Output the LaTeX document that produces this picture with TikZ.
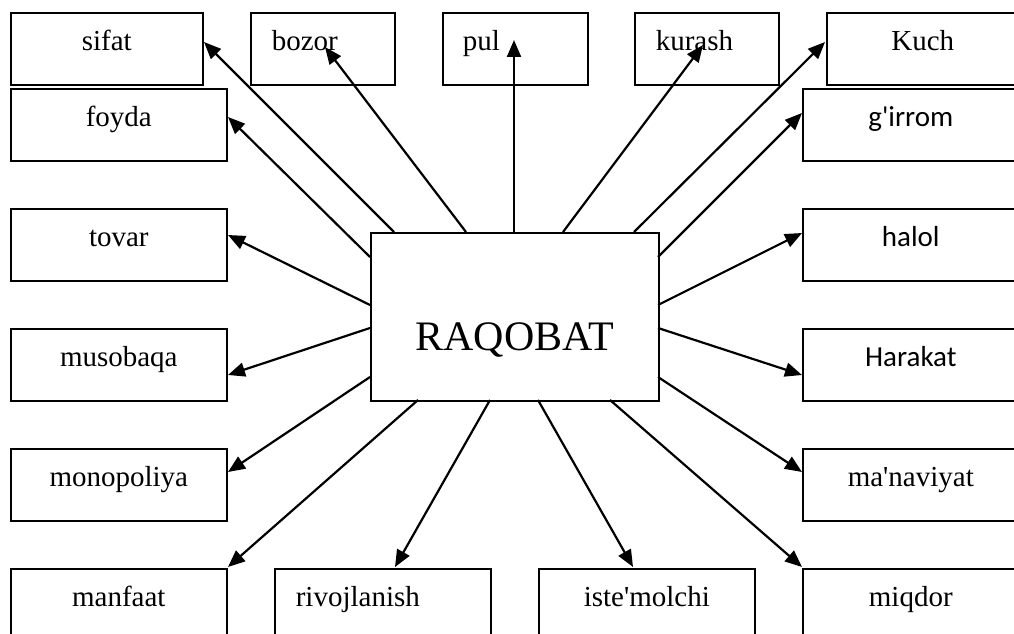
\documentclass[tikz,border=0pt]{standalone}
\usepackage{fontspec}
\setmainfont{Liberation Serif}
\newfontfamily\calib{Carlito}
\usetikzlibrary{arrows.meta}
\tikzset{
  wbox/.style={draw=black, line width=1.6pt, inner sep=0pt, anchor=north west,
    text height=37.5pt, text depth=34.5pt, align=center,
    font=\fontsize{29}{33}\selectfont},
  lbox/.style={wbox, align=left},
  sansbox/.style={wbox, font=\calib\fontsize{29}{33}\selectfont},
  arr/.style={draw=black, line width=2.2pt, -{Triangle[length=17pt,width=14pt]}}
}
\begin{document}
\begin{tikzpicture}[x=1pt,y=-1pt]
\useasboundingbox (0,0) rectangle (1014,634);
% top row
\node[wbox, text width=192pt] (sifat) at (10,12) {sifat};
\node[lbox, text width=144pt] (bozor) at (250,12) {\hspace*{21pt}bozor};
\node[lbox, text width=145pt] (pul) at (442,12) {\hspace*{20pt}pul};
\node[lbox, text width=144pt] (kurash) at (634,12) {\hspace*{21pt}kurash};
\node[wbox, text width=192pt] (kuch) at (826,12) {Kuch};
% second row
\node[wbox, text width=216pt] (foyda) at (10,88) {foyda};
\node[sansbox, text width=216pt] (girrom) at (802,88) {g'irrom};
% sides
\node[wbox, text width=216pt] (tovar) at (10,208) {tovar};
\node[sansbox, text width=216pt] (halol) at (802,208) {halol};
\node[wbox, text width=216pt] (musobaqa) at (10,328) {musobaqa};
\node[sansbox, text width=216pt] (harakat) at (802,328) {Harakat};
\node[wbox, text width=216pt] (monopoliya) at (10,448) {monopoliya};
\node[wbox, text width=216pt] (manaviyat) at (802,448) {ma\textquotesingle naviyat};
% bottom row
\node[wbox, text width=216pt] (manfaat) at (10,568) {manfaat};
\node[lbox, text width=216pt] (rivoj) at (274,568) {\hspace*{21pt}rivojlanish};
\node[wbox, text width=216pt] (iste) at (538,568) {iste\textquotesingle molchi};
\node[wbox, text width=216pt] (miqdor) at (802,568) {miqdor};
% center
\node[draw=black, line width=1.6pt, inner sep=0pt, anchor=north west, text width=288pt,
  align=center, text height=118pt, text depth=50pt, font=\fontsize{42}{48}\selectfont]
  (raq) at (370,232) {RAQOBAT};
% start points on RAQOBAT
\coordinate (s1) at (394,232);
\coordinate (s2) at (466,232);
\coordinate (s3) at (514,232);
\coordinate (s4) at (563,232);
\coordinate (s5) at (634,232);
\coordinate (s6) at (370,257);
\coordinate (s7) at (658,257);
\coordinate (s8) at (370,305);
\coordinate (s9) at (658,305);
\coordinate (s10) at (370,328);
\coordinate (s11) at (658,328);
\coordinate (s12) at (370,377);
\coordinate (s13) at (658,377);
\coordinate (s14) at (418,400);
\coordinate (s15) at (490,400);
\coordinate (s16) at (538,400);
\coordinate (s17) at (610,400);
% tips
\coordinate (t1) at (204,42);
\coordinate (t2) at (325,47);
\coordinate (t3) at (514,40);
\coordinate (t4) at (703,45);
\coordinate (t5) at (825,42);
\coordinate (t6) at (228,117);
\coordinate (t7) at (802,113);
\coordinate (t8) at (228,235);
\coordinate (t9) at (802,233);
\coordinate (t10) at (228,375);
\coordinate (t11) at (802,375);
\coordinate (t12) at (228,472);
\coordinate (t13) at (802,472);
\coordinate (t14) at (228,567);
\coordinate (t15) at (395,567);
\coordinate (t16) at (633,567);
\coordinate (t17) at (802,567);
\foreach \i in {1,...,17} {\draw[arr] (s\i) -- (t\i);}
\end{tikzpicture}
\end{document}
